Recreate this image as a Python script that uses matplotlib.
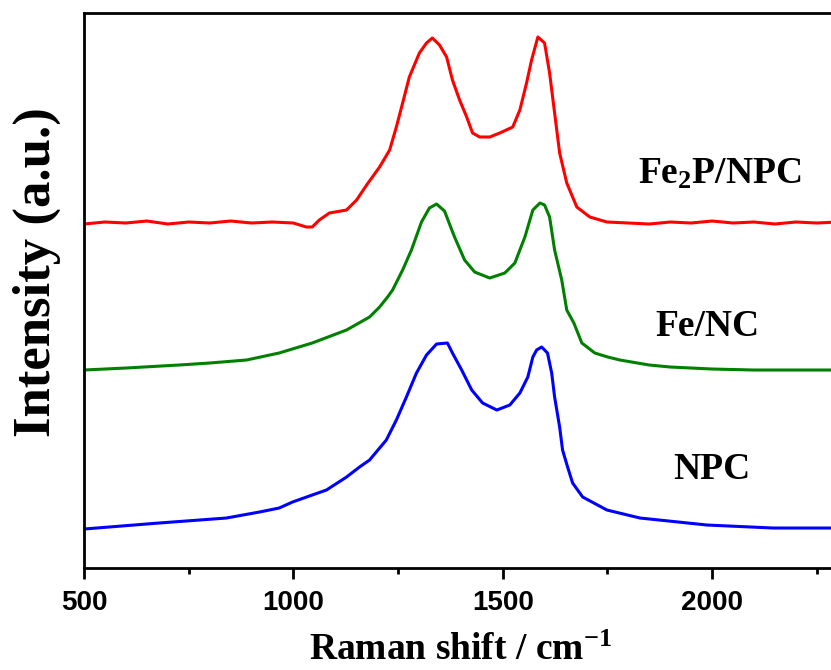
import matplotlib
matplotlib.use("Agg")
from matplotlib import pyplot as plt
from matplotlib.ticker import MultipleLocator

plt.rcParams['mathtext.fontset'] = 'custom'
plt.rcParams['mathtext.rm'] = 'Liberation Serif:bold'
plt.rcParams['mathtext.bf'] = 'Liberation Serif:bold'
plt.rcParams['mathtext.default'] = 'bf'

# Raman spectra (arbitrary intensity units, already offset)
fe2p_x = [500, 550, 600, 650, 700, 750, 800, 850, 900, 950, 1000, 1031, 1045, 1062,
          1086, 1127, 1151, 1175, 1206, 1230, 1246, 1261, 1277, 1301, 1318, 1332,
          1349, 1366, 1380, 1397, 1414, 1428, 1445, 1469, 1493, 1524, 1541, 1557,
          1569, 1584, 1600, 1612, 1624, 1636, 1653, 1677, 1708, 1749, 1800, 1850,
          1900, 1950, 2000, 2050, 2100, 2150, 2200, 2250, 2300]
fe2p_y = [344, 346, 345, 347, 344, 346, 345, 347, 345, 346, 345, 341, 341, 348,
          355, 358, 368, 383, 401, 418, 441, 465, 491, 515, 525, 530,
          523, 511, 488, 468, 451, 435, 431, 431, 435, 441, 458, 485,
          508, 531, 525, 495, 455, 415, 385, 361, 351, 346, 345, 344,
          346, 345, 347, 345, 346, 344, 346, 345, 346]

fenc_x = [500, 600, 727, 800, 888, 966, 1045, 1127, 1182, 1206, 1225, 1237, 1261,
          1282, 1306, 1325, 1342, 1361, 1385, 1409, 1433, 1469, 1505, 1529, 1553,
          1572, 1589, 1600, 1612, 1624, 1641, 1653, 1670, 1689, 1720, 1751, 1780,
          1850, 1900, 2000, 2100, 2200, 2300]
fenc_y = [198, 200, 203, 205, 208, 215, 225, 238, 251, 261, 271, 278, 298,
          318, 346, 360, 364, 357, 331, 308, 296, 290, 295, 305, 331,
          358, 365, 363, 351, 318, 288, 258, 245, 225, 215, 211, 208,
          203, 201, 199, 198, 198, 198]

npc_x = [500, 679, 840, 919, 966, 998, 1045, 1079, 1127, 1158, 1182, 1222, 1246,
         1270, 1294, 1318, 1342, 1368, 1380, 1402, 1426, 1452, 1486, 1517, 1541,
         1560, 1572, 1581, 1593, 1607, 1617, 1624, 1636, 1643, 1655, 1667, 1691,
         1749, 1828, 1988, 2146, 2300]
npc_y = [39, 45, 50, 56, 60, 66, 73, 78, 91, 101, 108, 128, 148,
         171, 195, 213, 224, 225, 215, 198, 178, 165, 158, 163, 175,
         191, 211, 218, 221, 215, 195, 171, 141, 118, 101, 85, 71,
         58, 50, 43, 40, 40]

labels = ["Fe$_{2}$P/NPC", "Fe/NC", "NPC"]
label_x = [2019, 1990, 2000]
label_y = [384, 232, 89]

fig = plt.figure(figsize=(8.31, 6.70), dpi=100)
ax = fig.add_axes([0.1011, 0.1522, 0.9069, 0.8284])

ax.plot(fe2p_x, fe2p_y, c='#ff0000', lw=2.2)
ax.plot(fenc_x, fenc_y, c='#008000', lw=2.2)
ax.plot(npc_x, npc_y, c='#0000ff', lw=2.2)

for t, x, y in zip(labels, label_x, label_y):
    ax.text(x, y, t, ha='center', va='baseline', fontsize=27,
            fontweight='bold', family='Liberation Serif')

ax.set_xlim(500, 2300)
ax.set_ylim(0, 555)
ax.xaxis.set_major_locator(MultipleLocator(500))
ax.xaxis.set_minor_locator(MultipleLocator(250))
ax.set_yticks([])
for s in ax.spines.values():
    s.set_linewidth(2.0)
ax.tick_params(axis='x', which='major', length=8, width=2.0, direction='out', pad=8)
ax.tick_params(axis='x', which='minor', length=4, width=2.0, direction='out')
for lab in ax.get_xticklabels():
    lab.set_fontfamily('Liberation Sans')
    lab.set_fontweight('bold')
    lab.set_fontsize(20)

ax.set_xlabel('Raman shift / cm$^{-1}$', fontsize=27, fontweight='bold',
              family='Liberation Serif', labelpad=12)
ax.set_ylabel('Intensity (a.u.)', fontsize=38, fontweight='bold',
              family='Liberation Serif')
ax.yaxis.set_label_coords(-0.03, 0.534)

fig.savefig('out.png', dpi=100)
